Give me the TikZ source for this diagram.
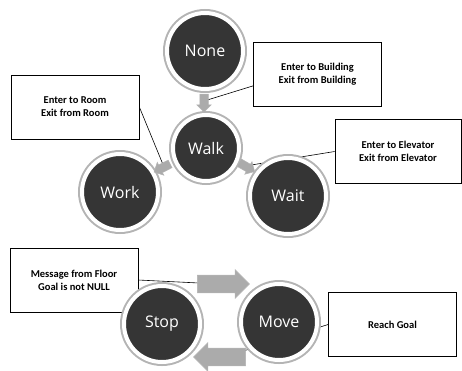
\documentclass[tikz,border=0pt]{standalone}
\usepackage{fontspec}
\setmainfont{Carlito}
\newfontfamily\statefont{Open Sans}
\usetikzlibrary{shapes.arrows,backgrounds}
\definecolor{statedark}{HTML}{353535}
\definecolor{ringgray}{HTML}{B4B4B4}
\definecolor{arrowgray}{HTML}{ABABAB}
\tikzset{
  state/.style={circle, fill=statedark, draw=white, line width=4pt, minimum size=76pt,
    inner sep=0pt, text=white, font=\statefont\fontsize{16}{18}\selectfont,
    preaction={draw=ringgray, line width=8pt}},
  smallstate/.style={state, minimum size=66pt},
  notebox/.style={draw=black, line width=0.7pt, fill=white, minimum width=128pt, minimum height=64pt,
    align=center, inner sep=2pt, font=\bfseries\fontsize{10.5}{13}\selectfont},
  tinyarrow/.style={single arrow, fill=arrowgray, draw=ringgray, line width=0.5pt, minimum height=18pt,
    minimum width=14pt, single arrow head extend=3pt, inner xsep=0pt, inner ysep=4pt},
  bigarrow/.style={single arrow, fill=arrowgray, draw=ringgray, line width=0.6pt, minimum height=52pt,
    minimum width=28pt, single arrow head extend=5.5pt, inner xsep=0pt, inner ysep=8.5pt},
  callout/.style={draw=black, line width=0.6pt}
}
\begin{document}
\begin{tikzpicture}[x=1pt,y=-1pt]
\useasboundingbox (0,0) rectangle (462,370);
% boxes
\node[notebox] (bld) at (317.5,74.5) {Enter to Building\\Exit from Building};
\node[notebox] (room) at (75,107) {Enter to Room\\Exit from Room};
\node[notebox, minimum width=126pt] (elev) at (398,151.5) {Enter to Elevator\\Exit from Elevator};
\node[notebox] (msg) at (74,280) {Message from Floor\\Goal is not NULL};
\node[notebox] (goal) at (392.5,324.5) {Reach Goal};
% states
\node[state] (none) at (205,51) {None};
\node[smallstate] (walk) at (206,148) {Walk};
\node[state] (work) at (120,192) {Work};
\node[state] (wait) at (288,196) {Wait};
\node[state] (stop) at (162,324) {Stop};
\node[state] (move) at (279,322) {Move};
% transition arrows
\node[tinyarrow, rotate=-90] (a1) at (204,101) {};
\node[tinyarrow, rotate=207] (a2) at (164,167) {};
\node[tinyarrow, rotate=-30] (a3) at (245,166) {};
\node[bigarrow] (ra) at (219,284) {};
\node[bigarrow, rotate=180] (la) at (224,357) {};
% callouts
\begin{scope}[on background layer]
\draw[callout] (bld.190) -- (a1.center);
\draw[callout] (room.east) -- (a2.center);
\draw[callout] (elev.west) -- (a3.center);
\draw[callout] (msg.east) -- (ra.center);
\draw[callout] (goal.west) -- (la.center);
\end{scope}
\end{tikzpicture}
\end{document}
